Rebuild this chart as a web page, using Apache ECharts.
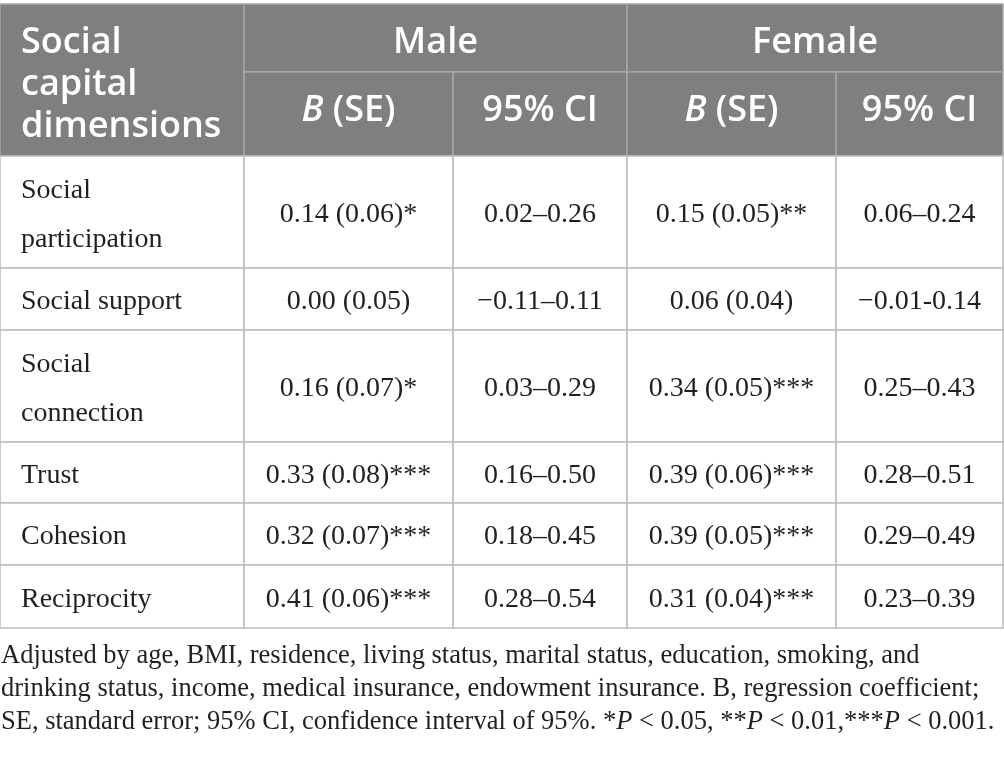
<!DOCTYPE html>
<html>
<head>
<meta charset="utf-8">
<script src="https://cdn.jsdelivr.net/npm/echarts@6/dist/echarts.min.js"></script>
<style>
html,body{margin:0;padding:0;background:#fff;}
#main{width:1004px;height:757px;}
</style>
</head>
<body>
<div id="main"></div>
<script>
// ---- data ----
const dimensions = ['Social participation', 'Social support', 'Social connection', 'Trust', 'Cohesion', 'Reciprocity'];
const maleB = ['0.14 (0.06)*', '0.00 (0.05)', '0.16 (0.07)*', '0.33 (0.08)***', '0.32 (0.07)***', '0.41 (0.06)***'];
const maleCI = ['0.02\u20130.26', '\u22120.11\u20130.11', '0.03\u20130.29', '0.16\u20130.50', '0.18\u20130.45', '0.28\u20130.54'];
const femaleB = ['0.15 (0.05)**', '0.06 (0.04)', '0.34 (0.05)***', '0.39 (0.06)***', '0.39 (0.05)***', '0.31 (0.04)***'];
const femaleCI = ['0.06\u20130.24', '\u22120.01-0.14', '0.25\u20130.43', '0.28\u20130.51', '0.29\u20130.49', '0.23\u20130.39'];
const groupHeaders = ['Male', 'Female'];
const subHeaders = ['{i|B} (SE)', '95% CI'];
const cornerHeader = 'Social\ncapital\ndimensions';
const footnote = [
  'Adjusted by age, BMI, residence, living status, marital status, education, smoking, and',
  'drinking status, income, medical insurance, endowment insurance. B, regression coefficient;',
  'SE, standard error; 95% CI, confidence interval of 95%. *{i|P} < 0.05, **{i|P} < 0.01,***{i|P} < 0.001.'
];

// ---- layout (pixel units on hidden value axes) ----
const colEdges = [0, 244, 453, 627, 836, 1003];
const rowEdges = [4, 72, 156, 268, 330, 442, 503, 565, 628];

// build cell table
const cells = [];
cells.push({c0: 0, c1: 1, r0: 0, r1: 2, text: cornerHeader, head: true, left: true, dy: 5});
groupHeaders.forEach((g, i) => {
  cells.push({c0: 1 + 2 * i, c1: 3 + 2 * i, r0: 0, r1: 1, text: g, head: true, dy: 5});
  subHeaders.forEach((s, j) => {
    cells.push({c0: 1 + 2 * i + j, c1: 2 + 2 * i + j, r0: 1, r1: 2, text: s, head: true, dy: -3});
  });
});
dimensions.forEach((d, r) => {
  const row = [d, maleB[r], maleCI[r], femaleB[r], femaleCI[r]];
  row.forEach((t, c) => {
    cells.push({c0: c, c1: c + 1, r0: 2 + r, r1: 3 + r, text: t, head: false, left: c === 0, dy: 3});
  });
});

const chart = echarts.init(document.getElementById('main'));
chart.setOption({
  backgroundColor: '#ffffff',
  animation: false,
  title: {
    left: 1,
    top: 640,
    padding: 0,
    text: footnote.join('\n'),
    textStyle: {
      fontFamily: 'Liberation Serif',
      fontSize: 26.5,
      fontWeight: 'normal',
      color: '#231f20',
      lineHeight: 33,
      rich: {
        i: {fontFamily: 'Liberation Serif', fontSize: 26.5, fontStyle: 'italic', color: '#231f20', lineHeight: 33}
      }
    }
  },
  grid: {left: 0, right: 0, top: 0, bottom: 0},
  xAxis: {type: 'value', min: 0, max: 1004, show: false},
  yAxis: {type: 'value', min: 0, max: 757, inverse: true, show: false},
  series: [{
    type: 'custom',
    coordinateSystem: 'cartesian2d',
    data: cells.map(c => [c.c0, c.r0, c.c1, c.r1]),
    renderItem: function (params, api) {
      const d = cells[params.dataIndex];
      const p0 = api.coord([colEdges[api.value(0)], rowEdges[api.value(1)]]);
      const p1 = api.coord([colEdges[api.value(2)], rowEdges[api.value(3)]]);
      const cx = (p0[0] + p1[0]) / 2;
      const cy = (p0[1] + p1[1]) / 2;
      const head = d.head;
      const textStyle = head ? {
        text: d.text,
        fill: '#ffffff',
        fontFamily: 'Open Sans',
        fontWeight: 600,
        fontSize: 36,
        lineHeight: 42,
        align: d.left ? 'left' : 'center',
        verticalAlign: 'middle',
        rich: {i: {fontFamily: 'Open Sans', fontWeight: 600, fontSize: 36, fontStyle: 'italic', fill: '#ffffff'}}
      } : {
        text: d.text,
        fill: '#231f20',
        fontFamily: 'Liberation Serif',
        fontSize: 28,
        lineHeight: 49,
        align: d.left ? 'left' : 'center',
        verticalAlign: 'middle',
        width: d.left ? 188 : undefined,
        overflow: d.left ? 'break' : undefined
      };
      return {
        type: 'group',
        children: [{
          type: 'rect',
          shape: {x: p0[0], y: p0[1], width: p1[0] - p0[0], height: p1[1] - p0[1]},
          style: {fill: head ? '#7f807e' : '#ffffff', stroke: head ? '#a6a7a5' : '#bdbdbd', lineWidth: 1.5}
        }, {
          type: 'text',
          x: d.left ? p0[0] + 21 : cx,
          y: cy + d.dy,
          style: textStyle
        }]
      };
    }
  }]
});
</script>
</body>
</html>
